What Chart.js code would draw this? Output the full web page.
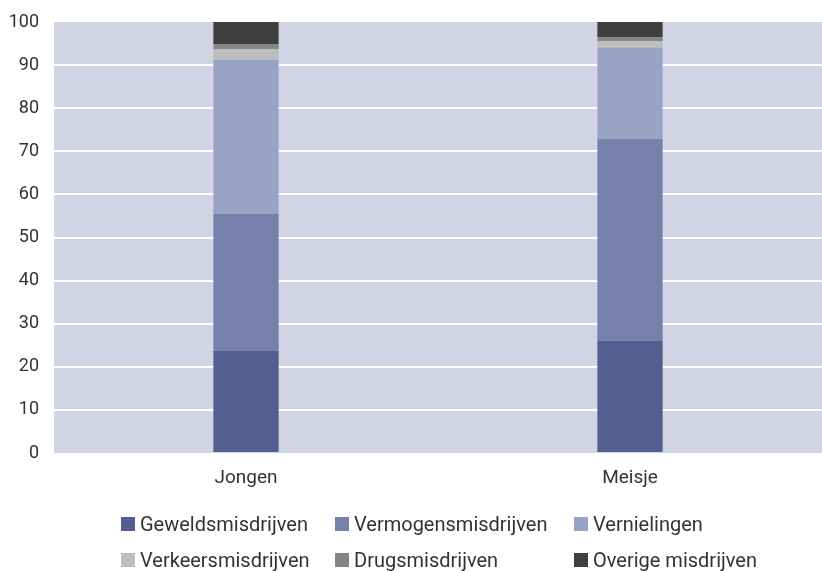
<!DOCTYPE html>
<html>
<head>
<meta charset="utf-8">
<script src="https://cdn.jsdelivr.net/npm/chart.js@4"></script>
<style>
  body { margin: 0; background: #fff; font-family: Roboto, sans-serif; }
  #wrap { position: relative; width: 822px; height: 571px; }
  #legend { position: absolute; left: 0; top: 0; width: 822px; height: 571px; pointer-events: none; }
  .item { position: absolute; display: flex; align-items: center; font-size: 20px; color: #333; white-space: nowrap; }
  .item span.box { display: inline-block; width: 14px; height: 14px; margin-right: 5px; }
</style>
</head>
<body>
<div id="wrap">
  <canvas id="chart" width="822" height="571"></canvas>
  <div id="legend"></div>
</div>
<script>
// categorieën en reeksen (percentages)
const categories = ['Jongen', 'Meisje'];
const seriesNames = ['Geweldsmisdrijven', 'Vermogensmisdrijven', 'Vernielingen', 'Verkeersmisdrijven', 'Drugsmisdrijven', 'Overige misdrijven'];
const geweld = [23.7, 26.1];
const vermogen = [31.8, 46.8];
const vernieling = [35.7, 21.1];
const verkeer = [2.5, 1.6];
const drugs = [1.2, 0.9];
const overig = [5.1, 3.5];
const yTicks = [0, 10, 20, 30, 40, 50, 60, 70, 80, 90, 100];

const colors = ['#535f91', '#7581ab', '#99a3c4', '#bdbdbf', '#868686', '#3f3f3f'];
const values = [geweld, vermogen, vernieling, verkeer, drugs, overig];

const plotBg = {
  id: 'plotBg',
  beforeDraw(chart) {
    const a = chart.chartArea, ctx = chart.ctx;
    ctx.save();
    ctx.fillStyle = '#d0d4e4';
    ctx.fillRect(a.left, a.top, a.right - a.left, a.bottom - a.top);
    ctx.restore();
  }
};

const ctx = document.getElementById('chart').getContext('2d');
new Chart(ctx, {
  type: 'bar',
  data: {
    labels: categories,
    datasets: seriesNames.map((n, i) => ({
      label: n,
      data: values[i],
      backgroundColor: colors[i],
      borderWidth: 0,
      categoryPercentage: 1,
      barPercentage: 0.17
    }))
  },
  options: {
    responsive: false,
    animation: false,
    layout: { padding: { top: 22, right: 0, left: 0, bottom: 84 } },
    plugins: { legend: { display: false }, tooltip: { enabled: false } },
    scales: {
      x: {
        stacked: true,
        grid: { display: false },
        border: { display: false },
        ticks: { color: '#333', font: { family: 'Roboto', size: 19 }, padding: 6 },
        afterFit(s) { s.height = 34; }
      },
      y: {
        stacked: true,
        min: 0, max: 100,
        afterBuildTicks(s) { s.ticks = yTicks.map(v => ({ value: v })); },
        grid: {
          color: c => (c.tick.value === 0 || c.tick.value === 100) ? 'rgba(0,0,0,0)' : '#ffffff',
          lineWidth: 2,
          drawTicks: false
        },
        border: { display: false },
        ticks: { color: '#333', font: { family: 'Roboto', size: 18 }, padding: 15 },
        afterFit(s) { s.width = 54; s.paddingTop = 0; s.paddingBottom = 0; }
      }
    }
  },
  plugins: [plotBg]
});

// legenda: twee rijen van drie
const legPos = [[121, 516], [335, 516], [574, 516], [121, 552], [335, 552], [574, 552]];
const leg = document.getElementById('legend');
seriesNames.forEach((n, i) => {
  const d = document.createElement('div');
  d.className = 'item';
  d.style.left = legPos[i][0] + 'px';
  d.style.top = (legPos[i][1] - 4) + 'px';
  d.innerHTML = '<span class="box" style="background:' + colors[i] + '"></span>' + n;
  leg.appendChild(d);
});
</script>
</body>
</html>
